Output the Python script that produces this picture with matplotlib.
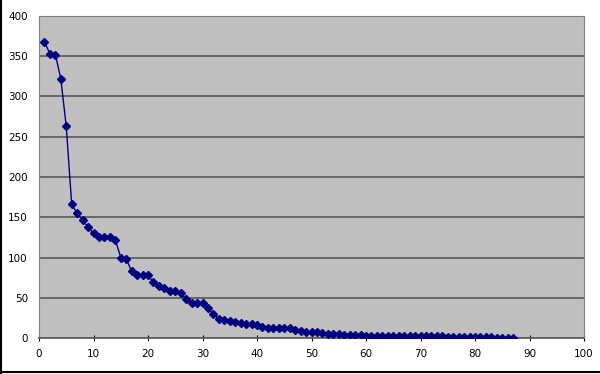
import numpy as np
import matplotlib.pyplot as plt
from matplotlib.lines import Line2D

# values, x = 1..87
values = [368, 353, 352, 322, 263, 166, 155, 146, 138, 130,
          126, 126, 126, 122, 100, 98, 83, 78, 78, 78,
          69, 64, 62, 59, 59, 56, 48, 44, 43, 43,
          37, 30, 24, 22, 21, 20, 19, 18, 17, 16,
          14, 13, 12, 12, 12, 12, 10, 8.5, 8, 7,
          7, 6, 5, 5, 4.5, 4, 4, 3.5, 3.5, 3,
          3, 3, 3, 3, 3, 2.5, 2.5, 2.5, 2.5, 2,
          2, 2, 2, 2, 1.5, 1.5, 1.5, 1.5, 1.5, 1.5,
          1, 1, 1, 0.5, 0.5, 0.5, 0.5]
x = np.arange(1, len(values) + 1)

xticks = list(range(0, 101, 10))
yticks = list(range(0, 401, 50))

fig = plt.figure(figsize=(6, 3.74), dpi=100)
fig.patch.set_facecolor('white')
ax = fig.add_axes([39 / 600, 36 / 374, 545 / 600, 322 / 374])
ax.set_facecolor('#c0c0c0')

ax.plot(x, values, color='#000080', lw=1, marker='D', markersize=4,
        markerfacecolor='#000080', markeredgecolor='#000080', zorder=3)

ax.set_xlim(0, 100)
ax.set_ylim(0, 400)
ax.set_xticks(xticks)
ax.set_yticks(yticks)
ax.tick_params(axis='x', direction='inout', length=4, width=0.8, color='black',
               labelsize=7.5, pad=6)
ax.tick_params(axis='y', length=0, labelsize=7.5, pad=8)
ax.yaxis.grid(True, color='#606060', lw=1.3)
ax.set_axisbelow(True)
for side in ['top', 'right', 'left']:
    ax.spines[side].set_color('#808080')
ax.spines['bottom'].set_color('#606060')
ax.spines['bottom'].set_linewidth(1.3)

# frame lines of the original screenshot (left and bottom)
fig.add_artist(Line2D([0.001, 0.001], [0, 1], transform=fig.transFigure, color='black', lw=1.5))
fig.add_artist(Line2D([0, 1], [2 / 374, 2 / 374], transform=fig.transFigure, color='black', lw=1.5))

fig.savefig('out.png', dpi=100)
plt.close()
